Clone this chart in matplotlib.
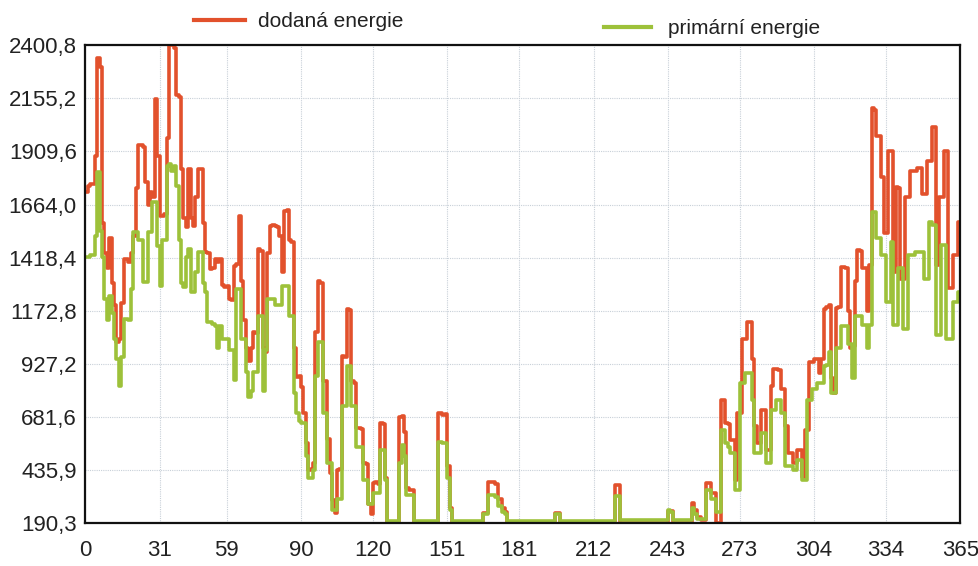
import numpy as np
import matplotlib
matplotlib.use('Agg')
import matplotlib.pyplot as plt
from matplotlib.lines import Line2D

# daily values (day 0..364)
dodana = [
    1720, 1750, 1760, 1760, 1890, 2340, 2300, 1580, 1440, 1370,
    1510, 1300, 1200, 1030, 1040, 1210, 1410, 1410, 1400, 1440,
    1520, 1740, 1940, 1940, 1930, 1770, 1660, 1720, 1700, 2150,
    1890, 1610, 1610, 1620, 1970, 2400, 2400, 2390, 2170, 2160,
    1830, 1600, 1560, 1830, 1600, 1565, 1700, 1830, 1830, 1580,
    1444, 1440, 1365, 1370, 1410, 1400, 1410, 1290, 1280, 1286,
    1226, 1220, 1380, 1390, 1612, 1310, 1130, 1000, 940, 1000,
    1072, 1070, 1458, 1450, 1000, 980, 1440, 1565, 1570, 1565,
    1560, 1520, 1350, 1634, 1640, 1500, 1490, 1000, 868, 870,
    820, 700, 562, 436, 440, 470, 1072, 1310, 1300, 845,
    845, 580, 422, 297, 236, 436, 440, 961, 960, 1180,
    1175, 845, 840, 631, 630, 625, 470, 465, 280, 230,
    375, 380, 370, 655, 650, 400, 192, 192, 192, 192,
    192, 683, 684, 610, 350, 343, 343, 192, 192, 192,
    192, 192, 192, 192, 192, 192, 192, 701, 700, 690,
    695, 455, 260, 192, 192, 192, 192, 192, 192, 192,
    192, 192, 192, 192, 192, 192, 237, 237, 382, 380,
    382, 370, 300, 300, 260, 240, 192, 192, 192, 192,
    192, 192, 192, 192, 192, 192, 192, 192, 192, 192,
    192, 192, 192, 192, 192, 192, 237, 237, 192, 192,
    192, 192, 192, 192, 192, 192, 192, 192, 192, 192,
    192, 192, 192, 192, 192, 192, 192, 192, 192, 192,
    192, 366, 366, 192, 192, 192, 192, 192, 192, 192,
    192, 192, 192, 192, 192, 192, 192, 192, 192, 192,
    192, 192, 192, 245, 245, 192, 192, 192, 192, 192,
    192, 192, 192, 283, 251, 220, 220, 205, 205, 376,
    376, 330, 330, 192, 192, 761, 760, 652, 650, 575,
    575, 390, 700, 700, 1040, 1040, 1119, 1119, 947, 637,
    562, 560, 715, 715, 530, 530, 823, 901, 901, 900,
    808, 808, 637, 514, 514, 467, 467, 530, 530, 405,
    622, 622, 933, 933, 947, 947, 885, 950, 1180, 1190,
    1200, 860, 790, 1185, 1190, 1377, 1377, 1370, 1170, 1000,
    1010, 1310, 1452, 1450, 1370, 1370, 1170, 1385, 2110, 2100,
    1980, 1980, 1790, 1530, 1530, 1911, 1910, 1354, 1743, 1740,
    1320, 1320, 1697, 1700, 1820, 1820, 1820, 1835, 1835, 1712,
    1712, 1866, 1866, 2021, 2021, 1385, 1697, 1697, 1911, 1911,
    1277, 1277, 1430, 1430, 1585,
]

primarni = [
    1420, 1420, 1430, 1430, 1520, 1815, 1540, 1420, 1225, 1130,
    1240, 1160, 1040, 950, 822, 960, 1133, 1133, 1130, 1272,
    1537, 1537, 1500, 1500, 1305, 1305, 1537, 1537, 1676, 1676,
    1470, 1286, 1500, 1500, 1840, 1850, 1820, 1840, 1750, 1500,
    1300, 1280, 1420, 1458, 1258, 1260, 1350, 1444, 1444, 1300,
    1260, 1119, 1119, 1110, 1100, 1000, 1100, 1040, 1040, 1040,
    993, 990, 854, 1272, 1272, 1040, 1040, 887, 775, 800,
    887, 887, 1147, 1147, 800, 993, 1226, 1226, 1226, 1200,
    1200, 1200, 1286, 1286, 1286, 1147, 1147, 794, 700, 660,
    655, 655, 500, 399, 400, 436, 870, 1026, 1026, 700,
    700, 470, 470, 250, 250, 300, 300, 730, 730, 915,
    915, 730, 730, 540, 540, 540, 390, 390, 280, 280,
    330, 330, 330, 529, 529, 390, 200, 200, 200, 200,
    200, 470, 550, 500, 320, 320, 320, 200, 200, 200,
    200, 200, 200, 200, 200, 200, 200, 565, 565, 560,
    560, 400, 250, 200, 200, 200, 200, 200, 200, 200,
    200, 200, 200, 200, 200, 200, 230, 230, 320, 320,
    320, 310, 270, 270, 240, 230, 200, 200, 200, 200,
    200, 200, 200, 200, 200, 200, 200, 200, 200, 200,
    200, 200, 200, 200, 200, 200, 230, 230, 200, 200,
    200, 200, 200, 200, 200, 200, 200, 200, 200, 200,
    200, 200, 200, 200, 200, 200, 200, 200, 200, 200,
    200, 315, 315, 202, 202, 202, 202, 202, 202, 202,
    202, 202, 202, 202, 202, 202, 202, 202, 202, 202,
    202, 202, 202, 250, 240, 202, 202, 202, 202, 202,
    202, 202, 202, 260, 230, 210, 210, 210, 210, 345,
    345, 300, 300, 240, 240, 622, 620, 560, 540, 515,
    515, 345, 345, 840, 840, 885, 885, 885, 761, 514,
    514, 514, 607, 607, 467, 467, 715, 715, 761, 761,
    700, 700, 453, 453, 453, 437, 437, 483, 483, 390,
    390, 761, 761, 808, 808, 840, 840, 840, 916, 920,
    982, 790, 790, 1000, 1000, 1100, 1100, 1100, 1020, 1020,
    860, 1150, 1150, 1150, 1105, 1105, 1000, 1105, 1631, 1631,
    1508, 1508, 1430, 1430, 1215, 1215, 1492, 1105, 1105, 1370,
    1370, 1090, 1090, 1430, 1430, 1430, 1445, 1445, 1445, 1445,
    1320, 1320, 1585, 1570, 1570, 1058, 1058, 1477, 1477, 1043,
    1043, 1043, 1215, 1215, 1260,
]

x_ticks = [0, 31, 59, 90, 120, 151, 181, 212, 243, 273, 304, 334, 365]
y_ticks = [190.3, 435.9, 681.6, 927.2, 1172.8, 1418.4, 1664.0, 1909.6, 2155.2, 2400.8]

RED = '#e2512c'
GREEN = '#9dc13a'

plt.rcParams['font.family'] = ['Liberation Sans', 'DejaVu Sans']

fig = plt.figure(figsize=(9.79, 5.66), dpi=100)
ax = fig.add_axes([0.087, 0.076, 0.894, 0.844])

days = np.arange(len(dodana) + 1)
# repeat the last day so the step reaches 365
ax.plot(days, dodana + dodana[-1:], drawstyle='steps-post', color=RED, lw=2.6)
ax.plot(days, primarni + primarni[-1:], drawstyle='steps-post', color=GREEN, lw=2.6)

ax.set_xlim(0, 365)
ax.set_ylim(190.3, 2400.8)
ax.set_xticks(x_ticks)
ax.set_xticklabels([str(t) for t in x_ticks])
ax.set_yticks(y_ticks)
ax.set_yticklabels([('%.1f' % t).replace('.', ',') for t in y_ticks])
ax.tick_params(length=0, labelsize=16, colors='#222222')
ax.tick_params(axis='y', pad=6)
ax.tick_params(axis='x', pad=12)

ax.grid(True, color='#c8d0d8', linestyle=(0, (1, 1)), linewidth=0.8)
for s in ax.spines.values():
    s.set_linewidth(1.6)
    s.set_color('#111111')

# legend above the plot
fig.add_artist(Line2D([0.198, 0.25], [0.965, 0.965], color=RED, lw=3))
fig.text(0.264, 0.962, 'dodaná energie', fontsize=15, va='center', color='#222222')
fig.add_artist(Line2D([0.617, 0.665], [0.952, 0.952], color=GREEN, lw=3))
fig.text(0.682, 0.949, 'primární energie', fontsize=15, va='center', color='#222222')

plt.savefig('out.png', dpi=100)
